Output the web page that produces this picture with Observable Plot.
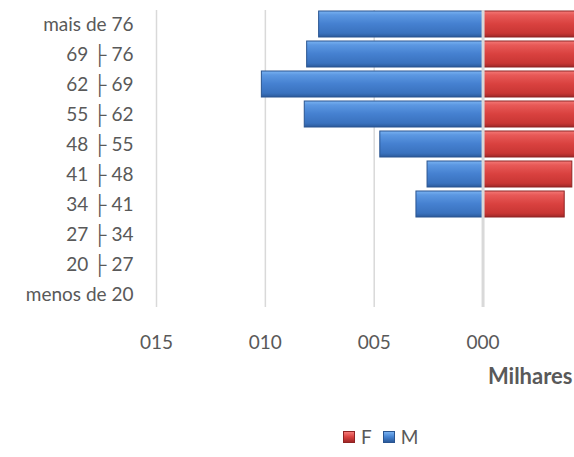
<!DOCTYPE html>
<html><head><meta charset="utf-8">
<script src="https://cdn.jsdelivr.net/npm/d3@7"></script>
<script src="https://cdn.jsdelivr.net/npm/@observablehq/plot@0.6"></script>
<style>
body{margin:0;background:#fff;font-family:Lato,"Noto Sans",sans-serif;}
#wrap{position:relative;width:574px;height:457px;overflow:hidden;}
#chart svg{display:block;}
#legend{position:absolute;left:343px;top:425px;display:flex;align-items:center;font-size:19px;color:#595959;}
.sw{width:12px;height:12px;display:inline-block;box-sizing:border-box;}
</style>
</head><body>
<div id="wrap"><div id="chart"></div>
<div id="legend"><span class="sw" style="background:linear-gradient(#f47a78,#d9413f 50%,#a02727);border:1px solid #8f2424"></span><span style="margin:0 11px 0 6px">F</span><span class="sw" style="background:linear-gradient(#77b0f0,#4482d0 50%,#2b5a9b);border:1px solid #2a5590"></span><span style="margin-left:6px">M</span></div>
</div>
<script>
const faixas = ["mais de 76","69 ├ 76","62 ├ 69","55 ├ 62","48 ├ 55","41 ├ 48","34 ├ 41","27 ├ 34","20 ├ 27","menos de 20"];
const masculino = [7.53, 8.08, 10.16, 8.19, 4.72, 2.55, 3.06, 0, 0, 0];
const feminino = [6.2, 6.8, 7.9, 6.9, 5.4, 4.1, 3.75, 0, 0, 0];
const xTicks = [-15, -10, -5, 0];
const tickLabels = ["015", "010", "005", "000"];

const rowsM = faixas.map((f, i) => ({faixa: f, v: -masculino[i]})).filter(d => d.v !== 0);
const rowsF = faixas.map((f, i) => ({faixa: f, v: feminino[i]})).filter(d => d.v !== 0);

const chart = Plot.plot({
  width: 574, height: 400,
  marginLeft: 156, marginRight: 0, marginTop: 9, marginBottom: 90,
  style: {fontFamily: "Lato, 'Noto Sans', sans-serif", fontSize: "19px", color: "#595959", background: "#fff"},
  x: {domain: [-15, 4.2], axis: null},
  y: {domain: faixas, paddingInner: 0.12, paddingOuter: 0.06, axis: null},
  marks: [
    Plot.gridX(xTicks, {stroke: "#d9d9d9", strokeOpacity: 1, strokeWidth: 1.5, insetTop: 1, insetBottom: 3}),
    Plot.barX(rowsM, {x: "v", y: "faixa", fill: "url(#gM)", stroke: "#2a5590", strokeWidth: 1, clip: true}),
    Plot.barX(rowsF, {x: "v", y: "faixa", fill: "url(#gF)", stroke: "#8f2424", strokeWidth: 1, clip: true}),
    Plot.ruleX([0], {stroke: "#d9d9d9", strokeWidth: 3, insetTop: 1, insetBottom: 3}),
    Plot.axisX(xTicks, {tickSize: 0, tickPadding: 25, fontSize: 19, fill: "#595959", tickFormat: d => tickLabels[xTicks.indexOf(d)], label: null}),
    Plot.axisY({tickSize: 0, tickPadding: 23, fontSize: 19, fill: "#595959", label: null}),
    Plot.text(["Milhares"], {frameAnchor: "bottom-right", dx: -2, dy: 73, textAnchor: "end", fontWeight: "bold", fontSize: 22, fill: "#595959"})
  ]
});
const defs = d3.select(chart).insert("defs", ":first-child");
function grad(id, stops) {
  const g = defs.append("linearGradient").attr("id", id).attr("x1", 0).attr("y1", 0).attr("x2", 0).attr("y2", 1);
  stops.forEach(([o, c]) => g.append("stop").attr("offset", o).attr("stop-color", c));
}
grad("gM", [[0, "#7ab3f2"], [0.15, "#5c98e2"], [0.5, "#4580d0"], [0.85, "#3a72be"], [1, "#2b5a9b"]]);
grad("gF", [[0, "#f47a78"], [0.15, "#e85a58"], [0.5, "#d9413f"], [0.85, "#c83634"], [1, "#a02727"]]);
document.getElementById("chart").appendChild(chart);
</script>
</body></html>
